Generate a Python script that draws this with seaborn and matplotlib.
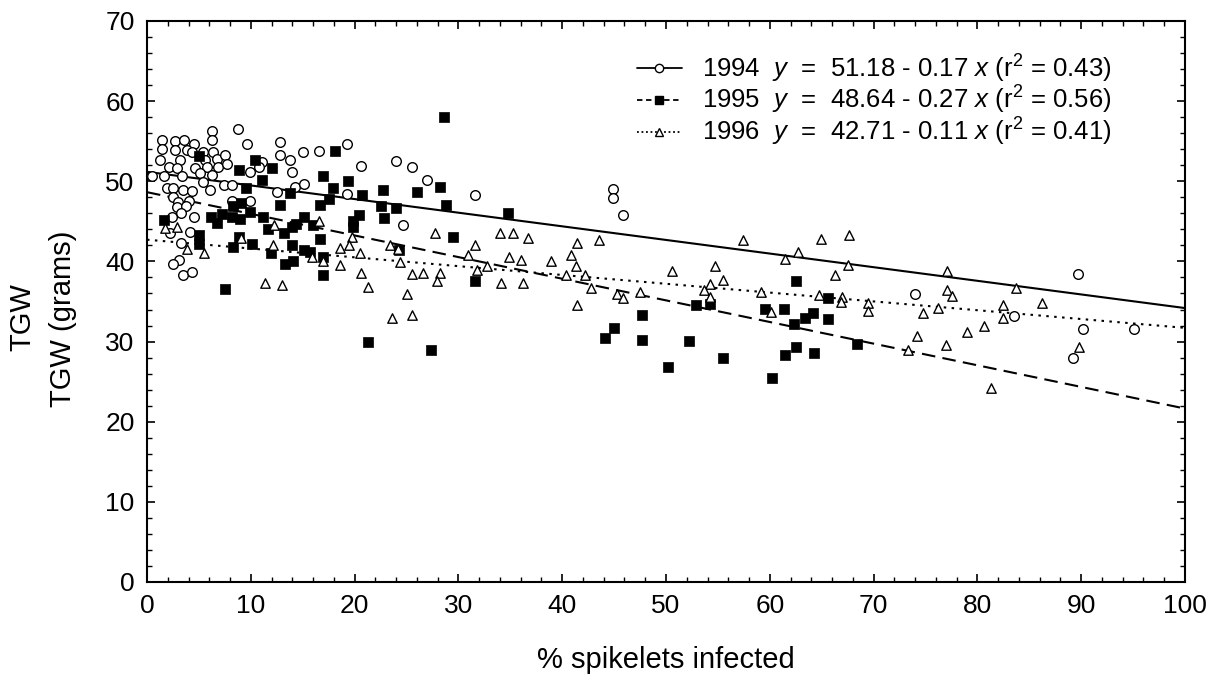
import numpy as np
import pandas as pd
import matplotlib
matplotlib.use("Agg")
import matplotlib.pyplot as plt
import seaborn as sns
from matplotlib.lines import Line2D
from matplotlib.ticker import MultipleLocator

# ---------------- data ----------------
years = ["1994", "1995", "1996"]

x1994 = [6.25, 8.75, 1.48, 2.7, 3.6, 4.57, 1.48, 2.7, 3.83, 4.3, 5.4, 6.25, 6.4, 1.25, 3.2, 5.6, 6.7, 7.5,
         2.1, 2.9, 4.6, 5.75, 6.85, 7.7, 0.45, 1.6, 3.4, 5.1, 6.25, 5.4, 7.4, 8.2, 6.1, 1.9, 2.5, 3.5, 4.3,
         2.5, 3.0, 4.0, 2.9, 3.8, 3.3, 2.4, 4.5, 2.25, 4.1, 3.3, 3.1, 2.55, 3.5, 4.3,
         9.6, 12.8, 11.1, 12.8, 13.75, 14.0, 15.0, 16.6, 10.75, 9.9, 12.5, 14.3, 15.1, 9.9, 8.2, 19.3, 19.3,
         20.6, 24.0, 25.55, 27.0, 31.6, 24.7, 44.85, 44.85, 45.9,
         74.0, 89.7, 83.5, 90.2, 95.1, 89.2]
y1994 = [56.3, 56.5, 55.1, 55.0, 55.1, 54.6, 54.0, 53.9, 53.9, 53.7, 53.7, 55.2, 53.7, 52.7, 52.7, 52.6, 52.8, 53.3,
         51.8, 51.6, 51.7, 51.8, 51.8, 52.2, 50.6, 50.6, 50.6, 51.0, 50.8, 49.9, 49.5, 49.5, 48.9, 49.1, 49.1, 48.9, 48.8,
         48.1, 47.4, 47.6, 46.8, 46.9, 46.0, 45.6, 45.6, 43.5, 43.7, 42.3, 40.2, 39.7, 38.3, 38.7,
         54.6, 54.85, 52.4, 53.3, 52.7, 51.2, 53.6, 53.8, 51.8, 51.2, 48.6, 49.3, 49.7, 47.6, 47.6, 54.7, 48.4,
         51.9, 52.5, 51.8, 50.1, 48.3, 44.6, 48.98, 47.86, 45.85,
         35.91, 38.47, 33.19, 31.62, 31.52, 27.98]

x1995 = [5.05, 10.4, 12.0, 18.1, 16.96, 8.9, 11.1, 9.5, 17.9, 13.8, 12.8, 16.7, 17.5, 8.3, 9.1, 9.9, 1.6, 6.2,
         7.2, 8.2, 9.0, 11.2, 6.7, 11.7, 14.4, 15.1, 16.0, 13.2, 14.0, 5.05, 8.9, 16.7, 5.05, 8.3, 10.1, 14.0,
         11.9, 15.1, 15.7, 17.0, 13.3, 14.1, 17.0, 7.5,
         28.6, 19.4, 20.7, 22.7, 22.5, 24.0, 26.0, 28.2, 28.8, 20.4, 19.8, 19.8, 22.8, 29.5, 34.8, 24.3, 31.6,
         21.3, 27.4,
         52.9, 54.2, 47.65, 45.0, 44.1, 47.65, 52.2, 55.5, 50.2, 60.2,
         62.5, 65.6, 59.55, 61.4, 64.2, 63.4, 62.3, 65.6, 68.4, 62.5, 61.5, 64.3]
y1995 = [53.1, 52.6, 51.6, 53.8, 50.6, 51.4, 50.1, 49.1, 49.2, 48.5, 47.0, 47.0, 47.8, 46.9, 47.3, 46.2, 45.2, 45.6,
         45.9, 45.6, 45.3, 45.6, 44.8, 44.1, 44.7, 45.6, 44.5, 43.5, 44.3, 43.3, 43.1, 42.8, 42.2, 41.8, 42.2, 42.1,
         41.0, 41.4, 41.2, 40.6, 39.7, 40.1, 38.3, 36.5,
         58.0, 50.0, 48.3, 48.9, 46.9, 46.7, 48.7, 49.3, 47.1, 45.8, 45.0, 44.3, 45.4, 43.1, 46.0, 41.4, 37.6,
         30.0, 29.0,
         34.60, 34.70, 33.33, 31.73, 30.46, 30.14, 30.04, 27.91, 26.85, 25.47,
         37.61, 35.49, 34.12, 34.12, 33.59, 32.95, 32.21, 32.85, 29.67, 29.36, 28.30, 28.61]

x1996 = [1.7, 2.9, 3.9, 5.5, 9.1, 12.2, 16.6, 12.1, 11.4, 13.0, 15.9, 17.0, 18.6, 18.6,
         19.75, 19.5, 20.5, 20.6, 21.3, 23.4, 24.2, 24.4, 25.5, 26.6, 28.2, 27.9, 25.0, 23.6, 25.5, 27.7, 30.9,
         31.6, 32.8, 31.8, 34.0, 35.3, 36.7, 34.9, 36.0, 34.1, 36.2,
         38.9, 41.4, 43.5, 40.8, 41.3, 40.4, 42.2, 42.8, 41.4, 45.3, 45.9, 47.5, 50.6, 57.4, 54.7, 55.5, 54.2,
         53.7, 54.2, 59.2,
         64.95, 67.6, 62.7, 61.5, 67.5, 66.3, 77.1, 60.1, 64.7, 67.0, 66.9, 69.5, 69.5, 77.1, 77.6, 76.2, 74.8,
         80.6, 79.0, 74.2, 77.0, 73.3, 81.3,
         83.7, 82.5, 82.5, 86.2, 89.8]
y1996 = [44.2, 44.3, 41.5, 41.1, 42.9, 44.6, 45.1, 42.0, 37.3, 37.0, 40.6, 40.1, 39.5, 41.7,
         43.05, 42.0, 41.0, 38.5, 36.8, 42.1, 41.5, 39.9, 38.4, 38.6, 38.5, 37.5, 35.9, 32.9, 33.3, 43.5, 40.8,
         42.0, 39.4, 38.9, 43.6, 43.6, 42.9, 40.6, 40.2, 37.3, 37.3,
         40.01, 42.24, 42.66, 40.86, 39.37, 38.31, 38.31, 36.72, 34.60, 35.98, 35.45, 36.19, 38.84, 42.66, 39.48,
         37.67, 37.14, 36.40, 35.55, 36.19,
         42.79, 43.32, 41.20, 40.25, 39.61, 38.35, 38.77, 33.69, 35.81, 35.60, 34.96, 34.86, 33.80, 36.44, 35.70,
         34.22, 33.59, 31.89, 31.15, 30.73, 29.57, 28.93, 24.17,
         36.71, 34.5, 32.9, 34.75, 29.37]

intercepts = [51.18, 48.64, 42.71]
slopes = [-0.17, -0.27, -0.11]
r_squared = [0.43, 0.56, 0.41]

x_ticks = list(range(0, 101, 10))
y_ticks = list(range(0, 71, 10))

# ---------------- style ----------------
sns.set_theme(style="white")
plt.rcParams["font.family"] = ["Liberation Sans", "DejaVu Sans"]
plt.rcParams["mathtext.fontset"] = "custom"
plt.rcParams["mathtext.rm"] = "Liberation Sans"
plt.rcParams["mathtext.it"] = "Liberation Sans:italic"
plt.rcParams["text.color"] = "black"
plt.rcParams["axes.labelcolor"] = "black"
plt.rcParams["xtick.color"] = "black"
plt.rcParams["ytick.color"] = "black"

fig = plt.figure(figsize=(12.17, 6.75), dpi=100)
ax = fig.add_axes([0.1208, 0.1378, 0.8529, 0.8311])

df = pd.concat([
    pd.DataFrame({"year": "1994", "x": x1994, "y": y1994}),
    pd.DataFrame({"year": "1995", "x": x1995, "y": y1995}),
    pd.DataFrame({"year": "1996", "x": x1996, "y": y1996}),
])

# regression lines
line_styles = ["-", (0, (6.5, 3.5)), (0, (1.2, 2.6))]
xs = np.array([0.0, 100.0])
for b, m, lsty in zip(intercepts, slopes, line_styles):
    ax.plot(xs, b + m * xs, color="black", lw=1.5, linestyle=lsty, zorder=2)

# scatter points
marker_specs = {
    "1994": dict(marker="o", s=48, color="white", edgecolor="black", linewidth=1.0),
    "1995": dict(marker="s", s=42, color="black", edgecolor="black", linewidth=0.5),
    "1996": dict(marker="^", s=46, color="white", edgecolor="black", linewidth=1.0),
}
for yr in years:
    sub = df[df["year"] == yr]
    sns.scatterplot(data=sub, x="x", y="y", ax=ax, legend=False, zorder=3, **marker_specs[yr])

ax.set_xlim(0, 100)
ax.set_ylim(0, 70)
ax.set_xticks(x_ticks)
ax.set_yticks(y_ticks)
ax.xaxis.set_minor_locator(MultipleLocator(2))
ax.yaxis.set_minor_locator(MultipleLocator(2))

for sp in ax.spines.values():
    sp.set_color("black")
    sp.set_linewidth(1.5)

ax.tick_params(axis="both", which="major", direction="in", length=6, width=1.2,
               labelsize=19, top=True, right=True, bottom=True, left=True)
ax.tick_params(axis="y", which="major", pad=9)
ax.tick_params(axis="x", which="major", pad=9)
ax.tick_params(axis="both", which="minor", direction="in", length=3.5, width=1.0,
               left=True, right=True, bottom=True, top=True)

ax.set_xlabel("% spikelets infected", fontsize=21)
ax.xaxis.set_label_coords(0.5, -0.139)
ax.xaxis.label.set_va("center")
ax.set_ylabel("TGW (grams)", fontsize=21)
ax.yaxis.set_label_coords(-0.081, 0.47)
ax.yaxis.label.set_va("center")
fig.text(22 / 1217, 1 - 317 / 675, "TGW", rotation=90, ha="center", va="center", fontsize=21)

# legend
handles = [
    Line2D([], [], color="black", lw=1.3, linestyle="-", marker="o", markersize=6,
           markerfacecolor="white", markeredgecolor="black"),
    Line2D([], [], color="black", lw=1.3, linestyle=(0, (3, 2)), marker="s", markersize=6,
           markerfacecolor="black", markeredgecolor="black"),
    Line2D([], [], color="black", lw=1.3, linestyle=(0, (1, 1.5)), marker="^", markersize=6,
           markerfacecolor="white", markeredgecolor="black"),
]
labels = [
    f"{yr}  $y$  =  {b:.2f} - {abs(m):.2f} $x$ ($\\mathregular{{r^2}}$ = {r:.2f})"
    for yr, b, m, r in zip(years, intercepts, slopes, r_squared)
]
ax.legend(handles, labels, loc="upper left", bbox_to_anchor=(0.472, 0.944), frameon=False,
          fontsize=18.5, handlelength=1.75, handletextpad=0.8, labelspacing=-0.02,
          borderaxespad=0, borderpad=0)

fig.savefig("out.png", dpi=100, facecolor="white")
